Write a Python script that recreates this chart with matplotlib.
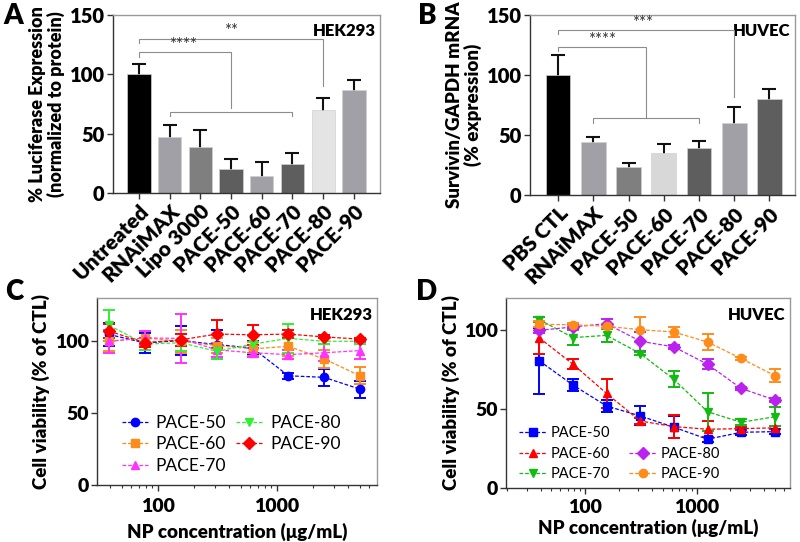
import matplotlib
matplotlib.use("Agg")
import matplotlib.pyplot as plt
import numpy as np
from matplotlib.ticker import LogLocator, NullFormatter, FixedLocator
from matplotlib.lines import Line2D

plt.rcParams['font.family'] = ['Lato', 'DejaVu Sans']

# ---------------- data ----------------
a_labels = ["Untreated", "RNAiMAX", "Lipo 3000", "PACE-50", "PACE-60", "PACE-70", "PACE-80", "PACE-90"]
a_values = [100.5, 47.5, 38.5, 20.5, 14, 24.7, 70, 87]
a_errors = [8.5, 9.5, 14.5, 8, 12, 9, 10, 8]
a_colors = ["#000000", "#a0a0a6", "#7f7f7f", "#5e5e5e", "#a0a0a6", "#5e5e5e", "#e4e4e4", "#a0a0a6"]

b_labels = ["PBS CTL", "RNAiMAX", "PACE-50", "PACE-60", "PACE-70", "PACE-80", "PACE-90"]
b_values = [100.5, 44.4, 23.6, 35, 39.4, 60.5, 80]
b_errors = [16.5, 4.2, 3.4, 7.5, 6, 12.8, 8.6]
b_colors = ["#000000", "#a0a0a6", "#7f7f7f", "#d8d8d8", "#5e5e5e", "#a0a0a6", "#5e5e5e"]

conc = [39, 78, 156, 312.5, 625, 1250, 2500, 5000]

c_names = ["PACE-50", "PACE-60", "PACE-70", "PACE-80", "PACE-90"]
c_vals = {
    "PACE-50": [104.7, 98.8, 100.5, 97.7, 95.3, 76, 74.9, 66.7],
    "PACE-60": [100, 102.3, 100, 97, 94.7, 96.5, 87.7, 76],
    "PACE-70": [100, 102.3, 102, 94, 92, 90.7, 92, 93.5],
    "PACE-80": [111, 98, 99, 93, 98, 102, 100, 100],
    "PACE-90": [107, 99, 101, 105, 104.5, 105, 103, 101.5],
}
c_errs = {
    "PACE-50": [8, 7, 10, 10, 5, 2, 6, 6],
    "PACE-60": [7, 5, 8, 5, 5, 7, 6, 6],
    "PACE-70": [8, 5, 17, 5, 3, 3, 6, 6],
    "PACE-80": [11, 4, 6, 5, 6, 10, 2, 2],
    "PACE-90": [5, 3, 4, 10, 7, 3, 1, 1],
}
c_colors = {"PACE-50": "#0000ff", "PACE-60": "#ff8c1a", "PACE-70": "#ff33ff",
            "PACE-80": "#33ee33", "PACE-90": "#ff0000"}
c_markers = {"PACE-50": "o", "PACE-60": "s", "PACE-70": "^", "PACE-80": "v", "PACE-90": "D"}

d_names = ["PACE-50", "PACE-60", "PACE-70", "PACE-80", "PACE-90"]
d_vals = {
    "PACE-50": [80.3, 65, 51.8, 45.5, 38.4, 30.8, 35.2, 35.6],
    "PACE-60": [94.8, 78.2, 59.7, 42.3, 38.8, 37.1, 37.5, 38],
    "PACE-70": [106.3, 95, 96.4, 84.9, 68.6, 48.2, 41.5, 45],
    "PACE-80": [99.6, 101.7, 103.8, 92.7, 89.1, 78.2, 62.9, 55.6],
    "PACE-90": [103.4, 103.1, 102.1, 100, 98.5, 92.2, 81.8, 71],
}
d_errs = {
    "PACE-50": [21, 4, 4, 6, 7, 1.5, 1.5, 1.5],
    "PACE-60": [10, 3, 9, 2, 7, 5, 1, 1],
    "PACE-70": [1.5, 5, 4, 1, 5, 12, 2, 6],
    "PACE-80": [2, 1.5, 3, 6, 1.5, 3, 1, 1],
    "PACE-90": [2, 1, 1, 8, 3, 5, 1, 4],
}
d_colors = {"PACE-50": "#0000ff", "PACE-60": "#ff0000", "PACE-70": "#11bb11",
            "PACE-80": "#bb22ee", "PACE-90": "#ff8c1a"}
d_markers = {"PACE-50": "s", "PACE-60": "^", "PACE-70": "v", "PACE-80": "D", "PACE-90": "o"}

# ---------------- figure ----------------
fig = plt.figure(figsize=(8, 5.42), dpi=100)

W = 'heavy'
TICK_FS = 14
LAB_FS = 13.5


def style_axes(ax, fs=TICK_FS):
    ax.spines['left'].set_color('#333333')
    ax.spines['bottom'].set_color('#333333')
    ax.spines['top'].set_color('#9a9a9a')
    ax.spines['right'].set_color('#9a9a9a')
    for s in ax.spines.values():
        s.set_linewidth(1.0)
    ax.tick_params(direction='out', length=4, width=1, color='#333333',
                   labelsize=fs, pad=2)
    for lab in ax.get_yticklabels():
        lab.set_fontweight(W)
    for lab in ax.get_xticklabels():
        lab.set_fontweight(W)


def bracket(ax, x1, x2, y, d1, d2, color='#8c8c8c'):
    ax.plot([x1, x1, x2, x2], [y - d1, y, y, y - d2], color=color, lw=0.8,
            solid_joinstyle='miter', zorder=3, clip_on=False)


def bar_panel(ax, labels, values, errors, colors, width):
    x = np.arange(len(labels))
    ax.errorbar(x, values, yerr=errors, fmt='none', ecolor='#111111',
                elinewidth=1.5, capsize=5, capthick=1.5, zorder=1)
    ax.bar(x, values, width=width, color=colors, edgecolor='#d0d0d0',
           linewidth=0.5, zorder=2)
    ax.set_ylim(0, 150)
    ax.set_yticks([0, 50, 100, 150])
    ax.set_xticks(x)
    ax.set_xticklabels(labels, rotation=45, ha='right', rotation_mode='anchor')
    return x


# Panel A
axA = fig.add_axes([0.141, 0.644, 0.334, 0.328])
bar_panel(axA, a_labels, a_values, a_errors, a_colors, 0.76)
axA.set_xlim(-0.85, 7.85)
axA.set_ylabel("% Luciferase Expression\n(normalized to protein)",
               fontsize=13, fontweight=W, labelpad=3, linespacing=1.1)
style_axes(axA, 14.5)
axA.tick_params(axis='x', labelsize=15)
axA.text(0.985, 0.955, "HEK293", transform=axA.transAxes, ha='right', va='top',
         fontsize=12, fontweight=W)
bracket(axA, 0, 6, 130, 3.5, 40)
bracket(axA, 0, 3, 118.6, 3.5, 47)
bracket(axA, 1, 5, 68.7, 3.5, 3.5)
axA.text(3, 130, "**", ha='center', va='bottom', fontsize=12, color='#333333')
axA.text(1.45, 118.0, "****", ha='center', va='bottom', fontsize=12, color='#333333')

# Panel B
axB = fig.add_axes([0.6625, 0.640, 0.331, 0.332])
bar_panel(axB, b_labels, b_values, b_errors, b_colors, 0.7)
axB.set_xlim(-0.8, 6.72)
axB.set_ylabel("Survivin/GAPDH mRNA\n(% expression)",
               fontsize=LAB_FS, fontweight=W, labelpad=3, linespacing=1.1)
style_axes(axB, 14.5)
axB.tick_params(axis='x', labelsize=15)
axB.text(0.985, 0.955, "HUVEC", transform=axB.transAxes, ha='right', va='top',
         fontsize=12, fontweight=W)
bracket(axB, 0, 5, 137.5, 3.5, 56)
bracket(axB, 0, 2.5, 123.6, 3.5, 59.5)
bracket(axB, 1, 4, 64, 4, 4)
axB.text(2.4, 137.0, "***", ha='center', va='bottom', fontsize=12, color='#333333')
axB.text(1.25, 123.0, "****", ha='center', va='bottom', fontsize=12, color='#333333')


def line_panel(ax, names, vals, errs, colors, markers, msize, lpad, tpad):
    handles = {}
    for n in names:
        ax.errorbar(conc, vals[n], yerr=errs[n], color=colors[n],
                    marker=markers[n], markersize=msize, linestyle='--',
                    linewidth=0.9, dashes=(3, 1.5), elinewidth=1.4,
                    capsize=4, capthick=1.4)
        handles[n] = Line2D([], [], color=colors[n], marker=markers[n],
                            markersize=msize, linestyle='--', linewidth=0.9,
                            dashes=(3, 1.5))
    ax.set_xscale('log')
    ax.xaxis.set_major_locator(FixedLocator([100, 1000]))
    ax.set_xticklabels(["100", "1000"])
    ax.xaxis.set_minor_locator(LogLocator(base=10, subs=np.arange(2, 10)))
    ax.xaxis.set_minor_formatter(NullFormatter())
    ax.set_yticks([0, 50, 100])
    ax.set_xlabel("NP concentration (\u03bcg/mL)", fontsize=13.5,
                  fontweight=W, labelpad=lpad)
    ax.set_ylabel("Cell viability (% of CTL)", fontsize=13.5,
                  fontweight=W, labelpad=3)
    style_axes(ax)
    ax.tick_params(axis='x', which='minor', direction='out', length=2.5,
                   width=0.8, color='#333333')
    ax.tick_params(axis='x', which='major', pad=tpad)
    return handles


# Panel C
axC = fig.add_axes([0.121, 0.105, 0.35, 0.345])
hC = line_panel(axC, c_names, c_vals, c_errs, c_colors, c_markers, 6, 6, 5)
axC.set_xlim(30.7, 6920)
axC.set_ylim(0, 130)
axC.text(0.985, 0.955, "HEK293", transform=axC.transAxes, ha='right', va='top',
         fontsize=12, fontweight=W)
axC.legend([hC[n] for n in c_names], c_names, ncol=2, frameon=False,
           loc='lower left', bbox_to_anchor=(0.045, -0.005), fontsize=12.5,
           handlelength=1.5, columnspacing=0.6, labelspacing=0.32,
           handletextpad=0.45, borderpad=0.2)

# Panel D
axD = fig.add_axes([0.6325, 0.0996, 0.355, 0.3506])
hD = line_panel(axD, d_names, d_vals, d_errs, d_colors, d_markers, 6, 2, 4)
axD.set_xlim(19.6, 6850)
axD.set_ylim(0, 120)
axD.text(0.985, 0.955, "HUVEC", transform=axD.transAxes, ha='right', va='top',
         fontsize=12, fontweight=W)
blank = Line2D([], [], color='none')
order = ["PACE-50", "PACE-60", "PACE-70", None, "PACE-80", "PACE-90"]
axD.legend([hD[n] if n else blank for n in order],
           [n if n else " " for n in order], ncol=2, frameon=False,
           loc='lower left', bbox_to_anchor=(0.015, -0.01), fontsize=10.5,
           handlelength=1.9, columnspacing=1.3, labelspacing=0.45,
           handletextpad=0.25, borderpad=0.1)

# Panel letters
for lbl, x, y in [("A", 0.004, 0.995), ("B", 0.522, 0.995),
                  ("C", 0.006, 0.485), ("D", 0.52, 0.485)]:
    fig.text(x, y, lbl, fontsize=20, fontweight=W, ha='left', va='top')

fig.savefig("out.png", dpi=100)
